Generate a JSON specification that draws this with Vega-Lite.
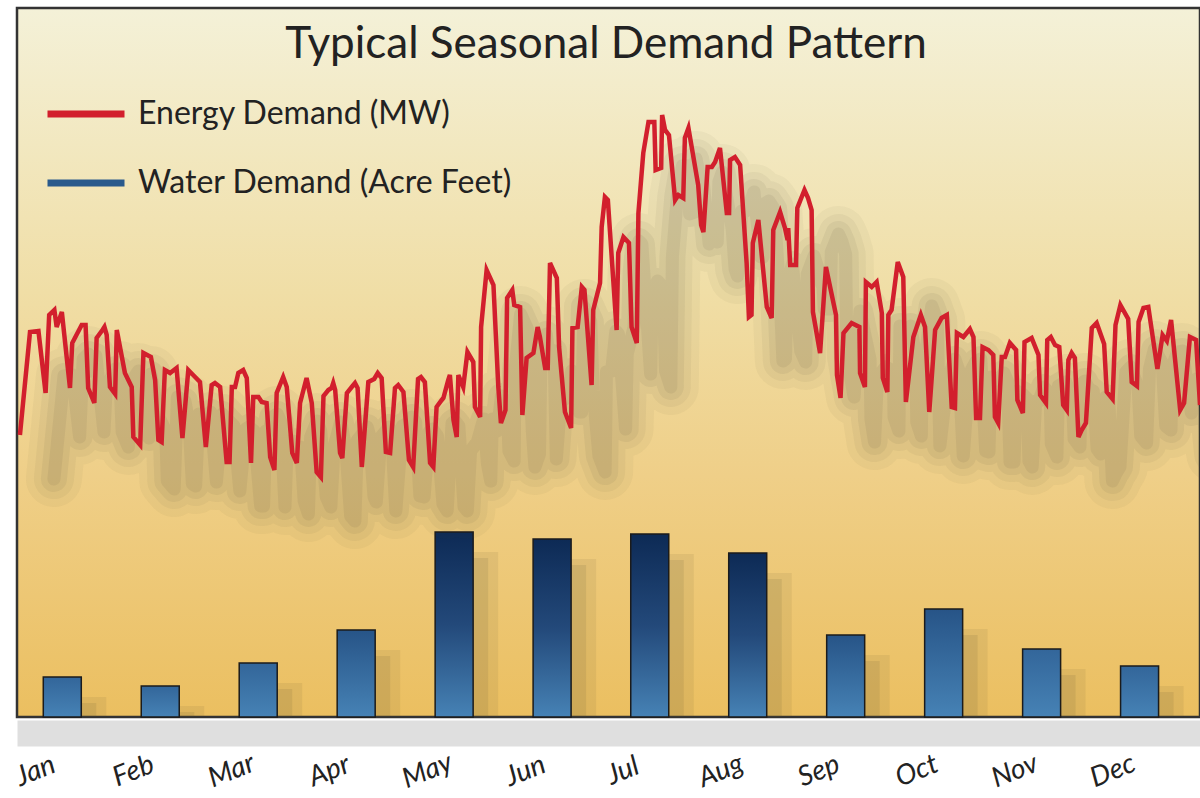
{
  "$schema": "https://vega.github.io/schema/vega-lite/v6.json",
  "width": 1183,
  "height": 709,
  "autosize": {"type": "none"},
  "padding": {"left": 17, "top": 8, "right": 0, "bottom": 81},
  "background": "white",
  "config": {
    "view": {
      "fill": {"gradient": "linear", "x1": 0, "y1": 0, "x2": 0, "y2": 1, "stops": [
        {"offset": 0, "color": "#f4f1d8"},
        {"offset": 0.4, "color": "#f0dea6"},
        {"offset": 0.66, "color": "#efcf88"},
        {"offset": 1, "color": "#ebbf60"}]},
      "stroke": "#333333",
      "strokeWidth": 2.5
    }
  },
  "resolve": {"scale": {"y": "independent", "x": "independent"}, "axis": {"x": "independent"}},
  "layer": [
    {
      "data": {"values": [
        {"month": "Jan", "day": 14, "water": 4000},
        {"month": "Feb", "day": 44.4, "water": 3100},
        {"month": "Mar", "day": 74.8, "water": 5400},
        {"month": "Apr", "day": 105.2, "water": 8700},
        {"month": "May", "day": 135.6, "water": 18500},
        {"month": "Jun", "day": 166, "water": 17800},
        {"month": "Jul", "day": 196.3, "water": 18300},
        {"month": "Aug", "day": 226.7, "water": 16400},
        {"month": "Sep", "day": 257.1, "water": 8200},
        {"month": "Oct", "day": 287.5, "water": 10800},
        {"month": "Nov", "day": 317.9, "water": 6800},
        {"month": "Dec", "day": 348.3, "water": 5100}
      ]},
      "encoding": {
        "x": {"field": "day", "type": "quantitative", "scale": {"domain": [1.5, 365.5], "nice": false, "zero": false},
          "axis": {"values": [14, 44.4, 74.8, 105.2, 135.6, 166, 196.3, 226.7, 257.1, 287.5, 317.9, 348.3],
            "labelExpr": "['Jan','Feb','Mar','Apr','May','Jun','Jul','Aug','Sep','Oct','Nov','Dec'][round((datum.value-14)/30.39)]",
            "labelAngle": -22, "labelAlign": "center", "labelBaseline": "middle", "labelFont": "Lato", "labelFontStyle": "italic",
            "labelFontSize": 28, "labelColor": "#222222", "labelPadding": 38, "labelOffset": -27, "ticks": false,
            "offset": 16, "domainColor": "#9a9a9a", "domainOpacity": 0.32, "domainWidth": 26,
            "grid": false, "title": null, "labelBound": false, "labelOverlap": false, "labelFlush": false}},
        "y": {"field": "water", "type": "quantitative", "scale": {"domain": [0, 70900], "nice": false}, "axis": null}
      },
      "layer": [
        {"mark": {"type": "bar", "size": 40, "xOffset": 24, "yOffset": 20, "fill": "#5a5030", "opacity": 0.09, "clip": true}},
        {"mark": {"type": "bar", "size": 24, "xOffset": 22, "yOffset": 26, "fill": "#5a5030", "opacity": 0.12, "clip": true}},
        {"transform": [{"filter": "datum.water >= 15000"}],
         "mark": {"type": "bar", "size": 38, "stroke": "#1b1b1b", "strokeWidth": 1.5,
           "fill": {"gradient": "linear", "x1": 0, "y1": 0, "x2": 0, "y2": 1, "stops": [{"offset": 0, "color": "#0d2a55"}, {"offset": 0.5, "color": "#23497a"}, {"offset": 1, "color": "#4682b5"}]}}},
        {"transform": [{"filter": "datum.water >= 8000 && datum.water < 15000"}],
         "mark": {"type": "bar", "size": 38, "stroke": "#1b1b1b", "strokeWidth": 1.5,
           "fill": {"gradient": "linear", "x1": 0, "y1": 0, "x2": 0, "y2": 1, "stops": [{"offset": 0, "color": "#275487"}, {"offset": 1, "color": "#4682b5"}]}}},
        {"transform": [{"filter": "datum.water < 8000"}],
         "mark": {"type": "bar", "size": 38, "stroke": "#1b1b1b", "strokeWidth": 1.5,
           "fill": {"gradient": "linear", "x1": 0, "y1": 0, "x2": 0, "y2": 1, "stops": [{"offset": 0, "color": "#33669a"}, {"offset": 1, "color": "#4682b5"}]}}}
      ]
    },
    {
      "data": {"values": [
        {"day":2.4,"energy":282},{"day":5.5,"energy":385},{"day":8.1,"energy":386},{"day":10.3,"energy":324},{"day":11.4,"energy":402},
        {"day":13.0,"energy":407},{"day":13.7,"energy":390},{"day":15.3,"energy":405},{"day":17.8,"energy":329},{"day":18.5,"energy":374},
        {"day":21.4,"energy":392},{"day":22.6,"energy":392},{"day":23.4,"energy":329},{"day":25.3,"energy":314},{"day":26.0,"energy":379},
        {"day":27.8,"energy":387},{"day":28.4,"energy":390},{"day":29.1,"energy":382},{"day":30.1,"energy":330},{"day":31.7,"energy":323},
        {"day":32.2,"energy":387},{"day":34.7,"energy":344},{"day":36.8,"energy":330},{"day":37.3,"energy":280},{"day":39.4,"energy":272},
        {"day":40.4,"energy":364},{"day":42.7,"energy":360},{"day":44.0,"energy":337},{"day":45.0,"energy":277},{"day":46.0,"energy":275},
        {"day":47.0,"energy":347},{"day":48.6,"energy":344},{"day":50.6,"energy":349},{"day":52.4,"energy":279},{"day":54.2,"energy":347},
        {"day":56.3,"energy":340},{"day":57.8,"energy":335},{"day":59.6,"energy":270},{"day":61.4,"energy":332},{"day":62.4,"energy":334},
        {"day":64.0,"energy":330},{"day":66.0,"energy":255},{"day":66.9,"energy":255},{"day":67.6,"energy":330},{"day":68.6,"energy":330},
        {"day":69.6,"energy":344},{"day":71.1,"energy":347},{"day":72.2,"energy":339},{"day":73.5,"energy":254},{"day":74.2,"energy":320},
        {"day":75.8,"energy":320},{"day":76.8,"energy":315},{"day":78.3,"energy":314},{"day":79.4,"energy":260},{"day":80.7,"energy":247},
        {"day":81.4,"energy":324},{"day":83.4,"energy":340},{"day":84.5,"energy":330},{"day":86.2,"energy":264},{"day":87.6,"energy":254},
        {"day":88.6,"energy":314},{"day":90.6,"energy":339},{"day":92.2,"energy":314},{"day":93.7,"energy":245},{"day":95.0,"energy":240},
        {"day":95.8,"energy":321},{"day":97.3,"energy":327},{"day":98.3,"energy":329},{"day":98.8,"energy":334},{"day":99.4,"energy":327},
        {"day":100.9,"energy":264},{"day":101.6,"energy":259},{"day":103.0,"energy":324},{"day":104.5,"energy":330},{"day":105.5,"energy":334},
        {"day":106.3,"energy":329},{"day":107.6,"energy":250},{"day":109.6,"energy":335},{"day":111.4,"energy":338},{"day":112.5,"energy":344},
        {"day":113.7,"energy":339},{"day":115.0,"energy":265},{"day":116.3,"energy":264},{"day":117.8,"energy":329},{"day":118.8,"energy":332},
        {"day":120.4,"energy":325},{"day":122.1,"energy":257},{"day":123.4,"energy":250},{"day":124.9,"energy":338},{"day":125.8,"energy":340},
        {"day":127.0,"energy":335},{"day":128.6,"energy":254},{"day":129.6,"energy":250},{"day":130.6,"energy":310},{"day":132.2,"energy":317},
        {"day":132.7,"energy":319},{"day":134.2,"energy":337},{"day":134.7,"energy":342},{"day":135.8,"energy":297},{"day":136.8,"energy":280},
        {"day":137.3,"energy":342},{"day":138.8,"energy":330},{"day":140.1,"energy":365},{"day":141.9,"energy":355},{"day":142.4,"energy":310},
        {"day":144.0,"energy":300},{"day":144.3,"energy":390},{"day":146.0,"energy":447},{"day":148.1,"energy":432},{"day":149.6,"energy":330},
        {"day":150.4,"energy":294},{"day":151.8,"energy":307},{"day":152.3,"energy":419},{"day":153.9,"energy":427},{"day":154.5,"energy":412},
        {"day":156.3,"energy":410},{"day":157.0,"energy":302},{"day":158.3,"energy":359},{"day":160.4,"energy":364},{"day":161.7,"energy":390},
        {"day":162.4,"energy":380},{"day":164.0,"energy":349},{"day":164.8,"energy":349},{"day":165.5,"energy":454},{"day":167.6,"energy":439},
        {"day":168.3,"energy":370},{"day":170.1,"energy":305},{"day":172.0,"energy":289},{"day":172.4,"energy":389},{"day":174.0,"energy":390},
        {"day":175.3,"energy":430},{"day":176.1,"energy":427},{"day":178.3,"energy":332},{"day":178.8,"energy":407},{"day":180.9,"energy":434},
        {"day":181.4,"energy":490},{"day":182.4,"energy":520},{"day":183.3,"energy":517},{"day":186.0,"energy":387},{"day":186.5,"energy":464},
        {"day":188.1,"energy":480},{"day":189.8,"energy":474},{"day":190.6,"energy":390},{"day":192.2,"energy":374},{"day":192.7,"energy":504},
        {"day":194.2,"energy":564},{"day":195.8,"energy":595},{"day":197.6,"energy":595},{"day":198.0,"energy":547},{"day":199.7,"energy":549},
        {"day":200.0,"energy":602},{"day":200.9,"energy":587},{"day":202.1,"energy":582},{"day":204.0,"energy":517},{"day":205.0,"energy":522},
        {"day":206.5,"energy":519},{"day":207.0,"energy":579},{"day":208.1,"energy":589},{"day":211.1,"energy":532},{"day":212.0,"energy":492},
        {"day":212.7,"energy":485},{"day":214.0,"energy":550},{"day":215.3,"energy":550},{"day":216.3,"energy":555},{"day":217.8,"energy":569},
        {"day":219.9,"energy":504},{"day":220.6,"energy":504},{"day":220.9,"energy":557},{"day":222.4,"energy":560},{"day":224.0,"energy":552},
        {"day":226.0,"energy":454},{"day":226.7,"energy":400},{"day":227.5,"energy":402},{"day":227.9,"energy":474},{"day":229.6,"energy":497},
        {"day":232.2,"energy":410},{"day":233.7,"energy":399},{"day":234.2,"energy":487},{"day":236.3,"energy":505},{"day":237.8,"energy":489},
        {"day":238.6,"energy":477},{"day":238.8,"energy":489},{"day":239.4,"energy":452},{"day":241.2,"energy":452},{"day":241.6,"energy":509},
        {"day":243.8,"energy":527},{"day":244.9,"energy":519},{"day":246.0,"energy":507},{"day":246.4,"energy":405},{"day":248.6,"energy":364},
        {"day":250.4,"energy":450},{"day":253.5,"energy":402},{"day":253.8,"energy":342},{"day":254.9,"energy":319},{"day":255.8,"energy":384},
        {"day":258.3,"energy":394},{"day":260.7,"energy":390},{"day":260.9,"energy":344},{"day":262.4,"energy":330},{"day":262.7,"energy":435},
        {"day":264.5,"energy":430},{"day":266.0,"energy":435},{"day":267.6,"energy":404},{"day":267.9,"energy":339},{"day":269.3,"energy":325},
        {"day":269.6,"energy":402},{"day":270.6,"energy":407},{"day":272.5,"energy":455},{"day":274.2,"energy":440},{"day":275.0,"energy":315},
        {"day":277.3,"energy":380},{"day":279.6,"energy":402},{"day":280.9,"energy":390},{"day":282.2,"energy":305},{"day":284.0,"energy":387},
        {"day":286.0,"energy":399},{"day":287.6,"energy":402},{"day":289.1,"energy":310},{"day":290.1,"energy":309},{"day":290.7,"energy":384},
        {"day":292.7,"energy":380},{"day":294.7,"energy":388},{"day":295.8,"energy":380},{"day":296.6,"energy":299},{"day":297.8,"energy":299},
        {"day":298.6,"energy":370},{"day":300.4,"energy":367},{"day":301.9,"energy":362},{"day":302.4,"energy":300},{"day":303.4,"energy":294},
        {"day":304.5,"energy":360},{"day":305.5,"energy":360},{"day":307.0,"energy":374},{"day":308.9,"energy":367},{"day":309.3,"energy":317},
        {"day":311.0,"energy":304},{"day":311.5,"energy":375},{"day":313.7,"energy":379},{"day":315.8,"energy":362},{"day":316.3,"energy":322},
        {"day":318.1,"energy":314},{"day":318.5,"energy":377},{"day":319.6,"energy":380},{"day":320.9,"energy":372},{"day":322.2,"energy":370},
        {"day":323.4,"energy":312},{"day":324.5,"energy":307},{"day":325.0,"energy":357},{"day":326.0,"energy":364},{"day":327.0,"energy":359},
        {"day":328.1,"energy":280},{"day":329.1,"energy":287},{"day":330.4,"energy":294},{"day":332.2,"energy":389},{"day":333.7,"energy":394},
        {"day":336.0,"energy":373},{"day":336.8,"energy":325},{"day":338.6,"energy":318},{"day":339.5,"energy":392},{"day":341.0,"energy":412},
        {"day":343.4,"energy":398},{"day":344.5,"energy":335},{"day":346.1,"energy":331},{"day":346.6,"energy":395},{"day":348.1,"energy":409},
        {"day":349.6,"energy":410},{"day":352.4,"energy":348},{"day":354.0,"energy":382},{"day":355.3,"energy":376},{"day":356.6,"energy":397},
        {"day":359.4,"energy":307},{"day":360.6,"energy":314},{"day":362.4,"energy":380},{"day":364.3,"energy":377},{"day":365.5,"energy":312}
      ]},
      "encoding": {
        "x": {"field": "day", "type": "quantitative", "scale": {"domain": [1.5, 365.5], "nice": false, "zero": false}, "axis": null},
        "y": {"field": "energy", "type": "quantitative", "scale": {"domain": [0, 709], "nice": false}, "axis": null}
      },
      "layer": [
        {"mark": {"type": "line", "stroke": "#4a4632", "strokeWidth": 56, "opacity": 0.045, "xOffset": 34, "yOffset": 44, "clip": true, "strokeJoin": "round", "strokeCap": "round"}},
        {"mark": {"type": "line", "stroke": "#4a4632", "strokeWidth": 40, "opacity": 0.055, "xOffset": 34, "yOffset": 44, "clip": true, "strokeJoin": "round", "strokeCap": "round"}},
        {"mark": {"type": "line", "stroke": "#4a4632", "strokeWidth": 26, "opacity": 0.07, "xOffset": 34, "yOffset": 44, "clip": true, "strokeJoin": "round", "strokeCap": "round"}},
        {"mark": {"type": "line", "stroke": "#4a4632", "strokeWidth": 13, "opacity": 0.08, "xOffset": 34, "yOffset": 44, "clip": true, "strokeJoin": "round", "strokeCap": "round"}},
        {"mark": {"type": "line", "strokeWidth": 4.5, "clip": true},
         "encoding": {
           "color": {"datum": "Energy Demand (MW)", "type": "nominal",
             "scale": {"domain": ["Energy Demand (MW)", "Water Demand (Acre Feet)"], "range": ["#d21f2d", "#2a5a8c"]},
             "legend": {"orient": "none", "legendX": 27, "legendY": 64, "title": null, "symbolType": "stroke", "symbolSize": 5929,
               "symbolStrokeWidth": 7, "labelFontSize": 32, "labelFont": "Lato", "labelColor": "#222222", "labelOffset": 10,
               "rowPadding": 11, "padding": 0, "labelLimit": 600}}
         }}
      ]
    },
    {
      "data": {"values": [{"title": "Typical Seasonal Demand Pattern"}]},
      "mark": {"type": "text", "font": "Lato", "fontSize": 44, "color": "#222222", "align": "center", "baseline": "alphabetic"},
      "encoding": {
        "text": {"field": "title"},
        "x": {"value": 589},
        "y": {"value": 50}
      }
    }
  ]
}
